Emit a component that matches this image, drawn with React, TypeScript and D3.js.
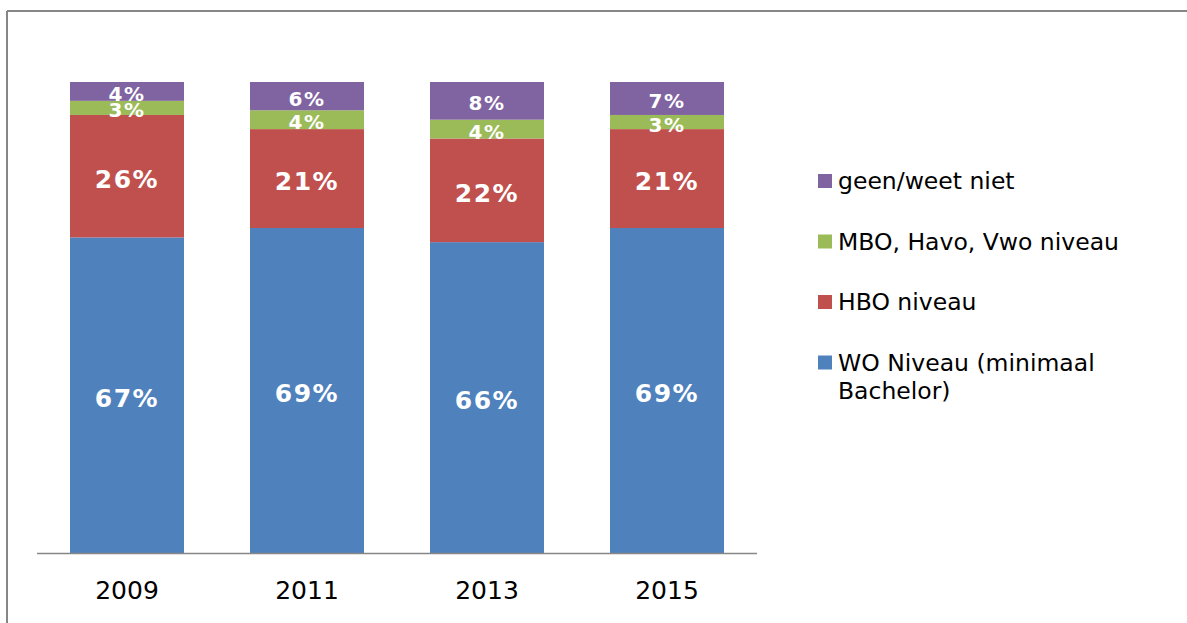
import React from "react";
import * as d3 from "d3";

const years = ["2009", "2011", "2013", "2015"];
const woNiveau = [67, 69, 66, 69];
const hboNiveau = [26, 21, 22, 21];
const mboNiveau = [3, 4, 4, 3];
const geenNiveau = [4, 6, 8, 7];

const seriesNames = [
  "WO Niveau (minimaal Bachelor)",
  "HBO niveau",
  "MBO, Havo, Vwo niveau",
  "geen/weet niet",
];
const seriesValues = [woNiveau, hboNiveau, mboNiveau, geenNiveau];
const seriesColors = ["#4F81BD", "#C0504D", "#9BBB59", "#8064A2"];
const smallLabel = [false, false, true, true];

const legendLines: string[][] = [
  ["geen/weet niet"],
  ["MBO, Havo, Vwo niveau"],
  ["HBO niveau"],
  ["WO Niveau (minimaal", "Bachelor)"],
];
const legendColors = ["#8064A2", "#9BBB59", "#C0504D", "#4F81BD"];

const W = 1187;
const H = 623;
const FONT = "'DejaVu Sans', Verdana, sans-serif";

export default function App() {
  const x = d3
    .scaleBand<string>()
    .domain(years)
    .range([37, 757])
    .paddingInner(0.3667)
    .paddingOuter(0.1833);
  const y = d3.scaleLinear().domain([0, 100]).range([553, 82]);

  const table = years.map((yr, i) => {
    const row: Record<string, number | string> = { year: yr };
    seriesNames.forEach((s, k) => (row[s] = seriesValues[k][i]));
    return row;
  });
  const stack = d3.stack<Record<string, number | string>>().keys(seriesNames);
  const layers = stack(table as any);

  return (
    <svg
      width={W}
      height={H}
      style={{ position: "absolute", left: 0, top: 0, background: "#fff" }}
      fontFamily={FONT}
    >
      <rect x={0} y={0} width={W} height={H} fill="#fff" />
      {/* frame */}
      <line x1={7} y1={11} x2={W} y2={11} stroke="#868686" strokeWidth={2} />
      <line x1={7} y1={11} x2={7} y2={H} stroke="#868686" strokeWidth={2} />

      {layers.map((layer, k) => (
        <g key={seriesNames[k]}>
          {layer.map((d, i) => {
            const x0 = x(years[i])!;
            const y0 = y(d[1]);
            const h = y(d[0]) - y(d[1]);
            return (
              <rect
                key={years[i]}
                x={x0}
                y={y0}
                width={x.bandwidth()}
                height={h}
                fill={seriesColors[k]}
              />
            );
          })}
        </g>
      ))}

      {layers.map((layer, k) => (
        <g key={"lbl" + seriesNames[k]}>
          {layer.map((d, i) => {
            const cx = x(years[i])! + x.bandwidth() / 2;
            const cy = (y(d[0]) + y(d[1])) / 2;
            const small = smallLabel[k];
            return (
              <text
                key={years[i]}
                x={cx}
                y={cy + (small ? 9.5 : 11.5)}
                textAnchor="middle"
                fill="#fff"
                fontWeight="bold"
                fontSize={small ? 20 : 25}
                letterSpacing={small ? 1.5 : 1.5}
              >
                {seriesValues[k][i]}%
              </text>
            );
          })}
        </g>
      ))}

      {/* axis */}
      <line x1={37} y1={553.5} x2={757} y2={553.5} stroke="#868686" strokeWidth={1.5} />
      {years.map((yr) => (
        <text
          key={yr}
          x={x(yr)! + x.bandwidth() / 2}
          y={599}
          textAnchor="middle"
          fontSize={25}
          fill="#000"
        >
          {yr}
        </text>
      ))}

      {/* legend */}
      {legendLines.map((lines, i) => {
        const base = 189 + i * 60.5;
        return (
          <g key={i}>
            <rect x={818} y={base - 15} width={14} height={14} fill={legendColors[i]} />
            {lines.map((ln, j) => (
              <text key={j} x={838} y={base + j * 28} fontSize={23.5} fill="#000">
                {ln}
              </text>
            ))}
          </g>
        );
      })}
    </svg>
  );
}
